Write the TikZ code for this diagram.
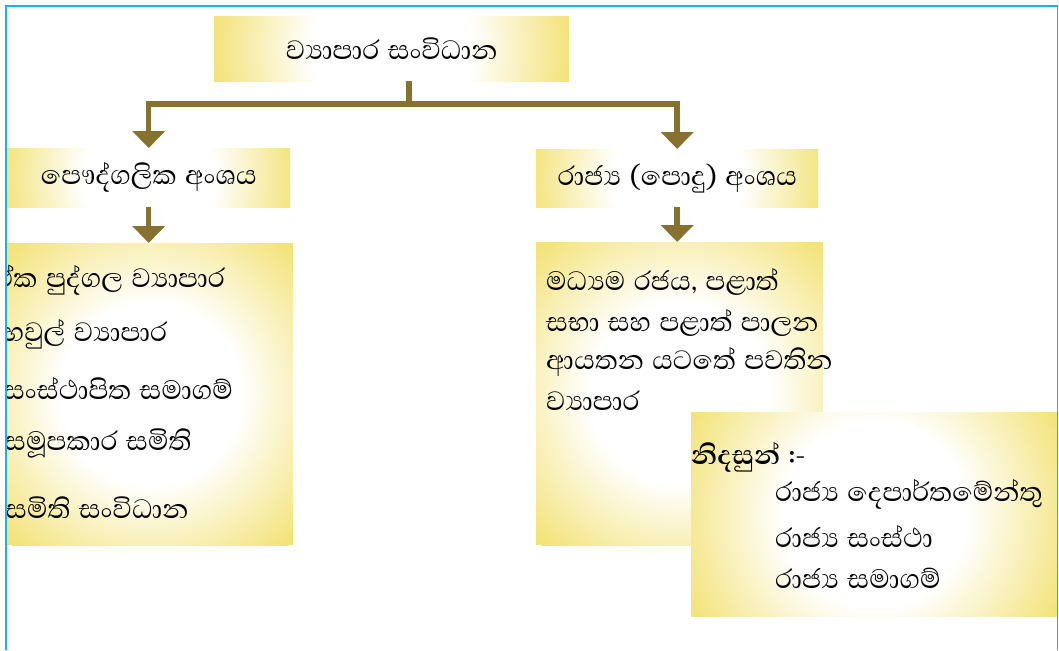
\documentclass[tikz,border=0pt]{standalone}
\usepackage{fontspec}
\newfontfamily\sinhala[Script=Sinhala,WordSpace=1.3]{Abhaya Libre}
\usetikzlibrary{arrows.meta}
\definecolor{glowgold}{RGB}{243,226,118}
\definecolor{flowbrown}{RGB}{134,113,46}
\definecolor{framecyan}{RGB}{24,178,238}
\pgfdeclareradialshading{glowing}{\pgfpointorigin}{color(0bp)=(white); color(11bp)=(white); color(25bp)=(glowgold); color(50bp)=(glowgold)}

\begin{document}
\begin{tikzpicture}[x=1pt,y=-1pt,
  panel/.style={inner sep=0pt,anchor=north west,fill=glowgold,font=\sinhala\fontsize{34}{40}\selectfont},
  glow/.style={path picture={\shade[shading=glowing] (path picture bounding box.center) circle[radius=#1pt];}},
  item/.style={inner sep=0pt,anchor=west,font=\sinhala\fontsize{34}{40}\selectfont},
  flow/.style={draw=flowbrown,line width=5.5pt},
  tip/.style={-{Triangle[width=32pt,length=17pt]}}]
  \useasboundingbox (0,0) rectangle (1059,650);

  \begin{scope}
    \clip (7,7) rectangle (1057,650);
    % boxes
    \node[panel,glow=182,minimum width=355pt,minimum height=65pt] (org) at (214,16) {ව්^^^^200dයාපාර සංවිධාන};
    \node[panel,glow=150,minimum width=283pt,minimum height=59pt] (pri) at (7,148) {පෞද්ගලික අංශය};
    \node[panel,glow=150,minimum width=282pt,minimum height=58pt] (pub) at (536,149) {රාජ්^^^^200dය (පොදු) අංශය};
    \node[panel,glow=205,minimum width=286pt,minimum height=302pt] (prilist) at (7,243) {};
    \node[panel,glow=205,minimum width=287pt,minimum height=303pt] (publist) at (536,242) {};
    \node[panel,glow=210,minimum width=366pt,minimum height=204pt] (eg) at (691,412) {};

    % private sector list
    \node[item] (p1) at (-6,280) {ඒක පුද්ගල ව්^^^^200dයාපාර};
    \node[item] (p2) at (3,334) {හවුල් ව්^^^^200dයාපාර};
    \node[item] (p3) at (3,389) {සංස්ථාපිත සමාගම්};
    \node[item] (p4) at (4,443) {සමූපකාර සමිති};
    \node[item] (p5) at (5,508) {සමිති සංවිධාන};

    % public sector text
    \node[item] (q1) at (546,282) {මධ්^^^^200dයම රජය, පළාත්};
    \node[item] (q2) at (546,323) {සභා සහ පළාත් පාලන};
    \node[item] (q3) at (546,362) {ආයතන යටතේ පවතින};
    \node[item] (q4) at (546,401) {ව්^^^^200dයාපාර};

    % examples
    \node[item,font=\sinhala\bfseries\fontsize{34}{40}\selectfont] (e0) at (691,457) {නිදසුන් :-};
    \node[item] (e1) at (775,494) {රාජ්^^^^200dය දෙපාර්තමේන්තු};
    \node[item] (e2) at (775,536) {රාජ්^^^^200dය සංස්ථා};
    \node[item] (e3) at (775,578) {රාජ්^^^^200dය සමාගම්};
  \end{scope}

  % arrows
  \coordinate (fork) at (409,104);
  \draw[flow] (fork |- org.south) -- (fork);
  \draw[flow,tip] (fork) -| (pri.north);
  \draw[flow,tip] (fork) -| (pub.north);
  \draw[flow,tip] (pri.south) -- (pri.south |- prilist.north);
  \draw[flow,tip] (pub.south) -- (pub.south |- publist.north);

  % frame
  \draw[framecyan,line width=2.6pt] (6,650) -- (6,6) -- (1058,6);
  \draw[framecyan,line width=1.2pt] (1057.6,6) -- (1057.6,650);
\end{tikzpicture}
\end{document}
